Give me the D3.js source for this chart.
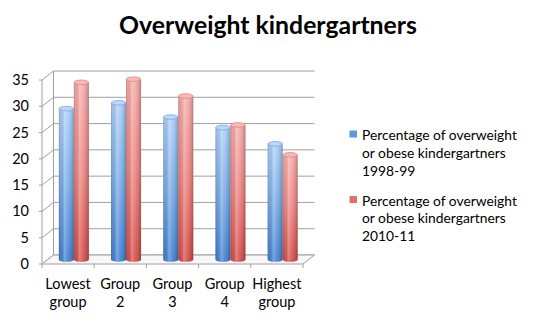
<!DOCTYPE html>
<html>
<head>
<meta charset="utf-8">
<script src="https://cdn.jsdelivr.net/npm/d3@7"></script>
<style>
  html, body { margin: 0; padding: 0; background: #fff; }
  svg { display: block; font-family: Lato, "Open Sans", sans-serif; }
</style>
</head>
<body>
<svg id="chart" width="538" height="321"></svg>
<script>
// Data
const categories = [["Lowest", "group"], ["Group", "2"], ["Group", "3"], ["Group", "4"], ["Highest", "group"]];
const seriesNames = [
  ["Percentage of overweight", "or obese kindergartners", "1998-99"],
  ["Percentage of overweight", "or obese kindergartners", "2010-11"]
];
const values1998 = [28.7, 29.8, 27.1, 25.1, 22.0];
const values2010 = [33.7, 34.3, 31.1, 25.6, 19.9];
const yTicks = [0, 5, 10, 15, 20, 25, 30, 35];
const title = "Overweight kindergartners";

const svg = d3.select("#chart");
const defs = svg.append("defs");

// Scale a text's font size so its rendered width equals the given width
function fitWidth(sel, width) {
  const node = sel.node();
  const size = parseFloat(sel.attr("font-size"));
  const w = node.getComputedTextLength();
  if (w > 0) sel.attr("font-size", (size * width / w).toFixed(2));
}

// Plot geometry (front plane) and depth offset of the 3D box
const frontLeft = 42, frontRight = 303, frontBottom = 264, frontTop = 80;
const depth = { dx: 11.5, dy: -9 };

const catKeys = categories.map((c, i) => i);
const x = d3.scaleBand().domain(catKeys).range([frontLeft, frontRight]).paddingInner(0).paddingOuter(0);
const xSeries = d3.scaleBand().domain([0, 1]).range([0, x.bandwidth()]).paddingInner(0).paddingOuter(0.74);
const y = d3.scaleLinear().domain([0, 35]).range([frontBottom, frontTop]);

const gridColor = "#a0a0a0";

// Back wall and left side wall gridlines
const grid = svg.append("g").attr("stroke", gridColor).attr("stroke-width", 1).attr("fill", "none");
yTicks.forEach(t => {
  const yy = y(t);
  grid.append("line")
    .attr("x1", frontLeft + depth.dx).attr("x2", frontRight + depth.dx)
    .attr("y1", yy + depth.dy).attr("y2", yy + depth.dy);
  grid.append("line")
    .attr("x1", frontLeft).attr("x2", frontLeft + depth.dx)
    .attr("y1", yy).attr("y2", yy + depth.dy);
});
// side wall back edge
grid.append("line")
  .attr("x1", frontLeft + depth.dx).attr("x2", frontLeft + depth.dx)
  .attr("y1", y(0) + depth.dy).attr("y2", y(35) + depth.dy);

// Floor
svg.append("path")
  .attr("d", d3.line()([
    [frontLeft, y(0)], [frontRight, y(0)],
    [frontRight + depth.dx, y(0) + depth.dy], [frontLeft + depth.dx, y(0) + depth.dy]
  ]) + "Z")
  .attr("fill", "#f7f7f7").attr("stroke", gridColor).attr("stroke-width", 1);

// Front vertical axis and ticks
const axisG = svg.append("g").attr("stroke", gridColor).attr("stroke-width", 1);
axisG.append("line").attr("x1", frontLeft).attr("x2", frontLeft).attr("y1", y(0)).attr("y2", y(35));
yTicks.forEach(t => {
  axisG.append("line").attr("x1", frontLeft - 3).attr("x2", frontLeft).attr("y1", y(t)).attr("y2", y(t));
});
const catTicks = catKeys.map(k => x(k)).concat([frontRight]);
catTicks.forEach(cx => {
  axisG.append("line").attr("x1", cx).attr("x2", cx).attr("y1", y(0)).attr("y2", y(0) + 4);
});

// Y tick labels
svg.append("g").selectAll("text").data(yTicks).join("text")
  .attr("x", 29).attr("y", d => y(d) + 5)
  .attr("text-anchor", "end")
  .attr("font-size", 14.5).attr("fill", "#000")
  .text(d => d);

// Category labels
const catLabels = svg.append("g").selectAll("text").data(categories).join("text")
  .attr("text-anchor", "middle").attr("font-size", 14.5).attr("fill", "#000");
catLabels.each(function(d, i) {
  const cx = x(i) + x.bandwidth() / 2;
  d3.select(this).selectAll("tspan").data(d).join("tspan")
    .attr("x", cx).attr("y", (l, j) => 289 + j * 17.5)
    .text(l => l);
});

// Cylinder shading
const palettes = [
  { top: "#aed2fa", mid: "#7caee9", bottom: "#4482d3", cap: "#b8d8fc", capEdge: "#7fa7d8" },
  { top: "#f8aeac", mid: "#ee8784", bottom: "#d64f4b", cap: "#f9b8b6", capEdge: "#d88886" }
];
palettes.forEach((p, i) => {
  const v = defs.append("linearGradient").attr("id", "vgrad" + i)
    .attr("x1", 0).attr("y1", 0).attr("x2", 0).attr("y2", 1);
  v.append("stop").attr("offset", "0%").attr("stop-color", p.top);
  v.append("stop").attr("offset", "50%").attr("stop-color", p.mid);
  v.append("stop").attr("offset", "100%").attr("stop-color", p.bottom);
});
const h = defs.append("linearGradient").attr("id", "hshade")
  .attr("x1", 0).attr("y1", 0).attr("x2", 1).attr("y2", 0);
[[0, "#000", 0.22], [0.12, "#000", 0.05], [0.38, "#fff", 0.28], [0.6, "#fff", 0.08], [0.88, "#000", 0.12], [1, "#000", 0.3]]
  .forEach(([o, c, a]) => h.append("stop").attr("offset", o).attr("stop-color", c).attr("stop-opacity", a));

const seriesValues = [values1998, values2010];
const ry = 2.3;
const bw = xSeries.bandwidth();
const bars = svg.append("g");
catKeys.forEach(k => {
  seriesValues.forEach((vals, s) => {
    const v = vals[k];
    const x0 = x(k) + xSeries(s) + depth.dx / 2;
    const yTop = y(v) + depth.dy / 2;
    const yBot = y(0) + depth.dy / 2;
    const p = palettes[s];
    const g = bars.append("g");
    const bodyPath = `M${x0},${yTop} L${x0},${yBot} A${bw / 2},${ry} 0 0 0 ${x0 + bw},${yBot} L${x0 + bw},${yTop} Z`;
    g.append("path").attr("d", bodyPath).attr("fill", `url(#vgrad${s})`);
    g.append("path").attr("d", bodyPath).attr("fill", "url(#hshade)");
    g.append("ellipse")
      .attr("cx", x0 + bw / 2).attr("cy", yTop).attr("rx", bw / 2 - 0.3).attr("ry", ry)
      .attr("fill", p.cap).attr("stroke", p.capEdge).attr("stroke-width", 0.8);
  });
});

// Title
const titleText = svg.append("text")
  .attr("x", 268).attr("y", 34)
  .attr("text-anchor", "middle")
  .attr("font-size", 21).attr("font-weight", "bold").attr("fill", "#000")
  .text(title);
fitWidth(titleText, 298);

// Legend
const legend = svg.append("g");
const legendColors = ["#5b9bd5", "#e0706c"];
const legendTop = [140, 205.5];
const legendTexts = [];
seriesNames.forEach((lines, s) => {
  legend.append("rect")
    .attr("x", 349.5).attr("y", legendTop[s] - 9.5).attr("width", 7.5).attr("height", 7)
    .attr("fill", legendColors[s]);
  const t = legend.append("text").attr("font-size", 14).attr("fill", "#000");
  t.selectAll("tspan").data(lines).join("tspan")
    .attr("x", 362).attr("y", (l, j) => legendTop[s] + j * 17.8)
    .text(l => l);
  legendTexts.push(t);
});
// size legend so the longest line spans the legend column
const probe = legend.append("text").attr("font-size", 14).text(seriesNames[0][0]);
fitWidth(probe, 155);
const legendSize = probe.attr("font-size");
probe.remove();
legendTexts.forEach(t => t.attr("font-size", legendSize));
</script>
</body>
</html>
